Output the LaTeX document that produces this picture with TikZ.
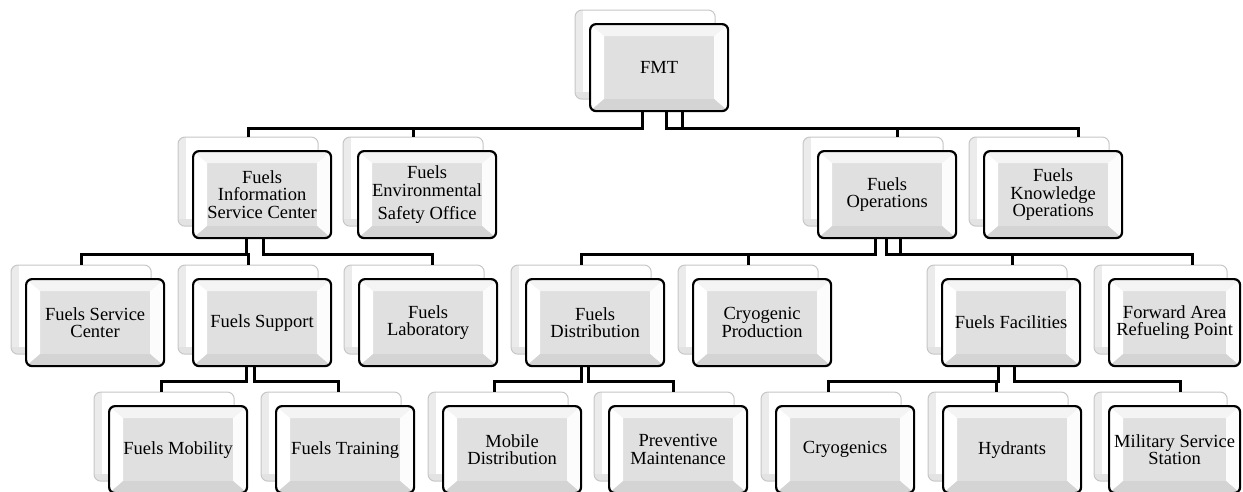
\documentclass[tikz,border=0pt]{standalone}
\usepackage{fontspec}
\setmainfont{Liberation Serif}
\usetikzlibrary{fit,backgrounds}

\begin{document}
\begin{tikzpicture}[%
    x=1pt,y=-1pt,
    unit/.style={%
      rectangle,rounded corners=6pt,draw=black,line width=2.2pt,fill=gray!24,
      anchor=north west,inner sep=0pt,minimum width=138pt,minimum height=87pt,
      align=center,font=\fontsize{18.5}{17.5}\selectfont,
      path picture={%
        \path (path picture bounding box.north west) coordinate (pa)
              (path picture bounding box.north east) coordinate (pb)
              (path picture bounding box.south east) coordinate (pc)
              (path picture bounding box.south west) coordinate (pd);
        \fill[sharp corners,gray!9] (pa) -- (pb) -- ([shift={(-14pt,-12pt)}]pb) -- ([shift={(14pt,-12pt)}]pa) -- cycle;
        \fill[sharp corners,white] (pa) -- (pd) -- ([shift={(14pt,12pt)}]pd) -- ([shift={(14pt,-12pt)}]pa) -- cycle;
        \fill[sharp corners,gray!2] (pb) -- (pc) -- ([shift={(-14pt,12pt)}]pc) -- ([shift={(-14pt,-12pt)}]pb) -- cycle;
        \fill[sharp corners,gray!34] (pd) -- (pc) -- ([shift={(-14pt,12pt)}]pc) -- ([shift={(14pt,12pt)}]pd) -- cycle;
      }},
    narrow/.style={minimum width=131pt},
    backunit/.style={%
      rectangle,rounded corners=7pt,draw=gray!45,line width=1pt,fill=white,inner sep=0pt,
      path picture={%
        \fill[sharp corners,gray!16] (path picture bounding box.south west) rectangle
          ([shift={(8pt,0pt)}]path picture bounding box.north west);
        \fill[sharp corners,gray!22] (path picture bounding box.south west) rectangle
          ([shift={(0pt,7pt)}]path picture bounding box.south east);
      }},
    link/.style={draw=black,line width=3.2pt}
  ]
    \useasboundingbox (0,0) rectangle (1243,491);

    % top
    \node[unit] (fmt) at (589,23) {FMT};
    % first level
    \node[unit] (fisc) at (192,150) {Fuels\\Information\\Service Center};
    \node[unit] (feso) at (357,150) {Fuels\\Environmental\\[6pt]Safety Office};
    \node[unit] (fops) at (817,150) {Fuels\\Operations};
    \node[unit] (fko)  at (983,150) {Fuels\\Knowledge\\Operations};
    % second level
    \node[unit] (fsc)   at (25,278)  {Fuels Service\\Center};
    \node[unit] (fsup)  at (192,278) {Fuels Support};
    \node[unit] (flab)  at (358,278) {Fuels\\Laboratory};
    \node[unit] (fdist) at (525,278) {Fuels\\Distribution};
    \node[unit] (cryop) at (692,278) {Cryogenic\\Production};
    \node[unit] (ffac)  at (941,278) {Fuels Facilities};
    \node[unit,narrow] (farp) at (1108,278) {Forward Area\\Refueling Point};
    % third level
    \node[unit] (fmob)   at (108,405) {Fuels Mobility};
    \node[unit] (ftrain) at (275,405) {Fuels Training};
    \node[unit] (mobd)   at (442,405) {Mobile\\Distribution};
    \node[unit] (prev)   at (608,405) {Preventive\\Maintenance};
    \node[unit] (cryo)   at (775,405) {Cryogenics};
    \node[unit] (hyd)    at (942,405) {Hydrants};
    \node[unit,narrow] (mss) at (1108,405) {Military Service\\Station};

    % the boxes behind
    \begin{scope}[on background layer]
      \foreach \n in {fmt,fisc,feso,fops,fko,fsc,fsup,flab,fdist,cryop,ffac,farp,
                      fmob,ftrain,mobd,prev,cryo,hyd,mss}
        \node[backunit,fit=(\n),xshift=-14pt,yshift=13pt] (\n-b) {};
    \end{scope}

    % connectors
    \draw[link] ([xshift=-17pt]fmt.south) -- ++(0,-16pt) -| (fisc-b.north);
    \draw[link] ([xshift=-17pt]fmt.south) -- ++(0,-16pt) -| (feso-b.north);
    \draw[link] ([xshift=7pt]fmt.south)   -- ++(0,-16pt) -| ([xshift=24pt]fops-b.north);
    \draw[link] ([xshift=23pt]fmt.south)  -- ++(0,-16pt) -| ([xshift=39pt]fko-b.north);

    \draw[link] ([xshift=-16pt]fisc.south) -- ++(0,-15pt) -| (fsc-b.north);
    \draw[link] ([xshift=-16pt]fisc.south) -- ++(0,-15pt) -| (fsup-b.north);
    \draw[link] ([xshift=1pt]fisc.south)   -- ++(0,-15pt) -| ([xshift=18pt]flab-b.north);

    \draw[link] ([xshift=-12pt]fops.south) -- ++(0,-15pt) -| (fdist-b.north);
    \draw[link] ([xshift=-12pt]fops.south) -- ++(0,-15pt) -| (cryop-b.north);
    \draw[link] ([xshift=-1pt]fops.south)  -- ++(0,-15pt) -| ([xshift=15pt]ffac-b.north);
    \draw[link] ([xshift=13pt]fops.south)  -- ++(0,-15pt) -| ([xshift=32pt]farp-b.north);

    \draw[link] ([xshift=-16pt]fsup.south) -- ++(0,-14pt) -| ([xshift=-3pt]fmob-b.north);
    \draw[link] ([xshift=-8pt]fsup.south)  -- ++(0,-14pt) -| ([xshift=7pt]ftrain-b.north);

    \draw[link] ([xshift=-14pt]fdist.south) -- ++(0,-14pt) -| ([xshift=-4pt]mobd-b.north);
    \draw[link] ([xshift=-7pt]fdist.south)  -- ++(0,-14pt) -| ([xshift=9pt]prev-b.north);

    \draw[link] ([xshift=-13pt]ffac.south) -- ++(0,-14pt) -| ([xshift=-3pt]cryo-b.north);
    \draw[link] ([xshift=-13pt]ffac.south) -- ++(0,-14pt) -| ([xshift=-2pt]hyd-b.north);
    \draw[link] ([xshift=3pt]ffac.south)   -- ++(0,-14pt) -| ([xshift=20pt]mss-b.north);
\end{tikzpicture}
\end{document}
